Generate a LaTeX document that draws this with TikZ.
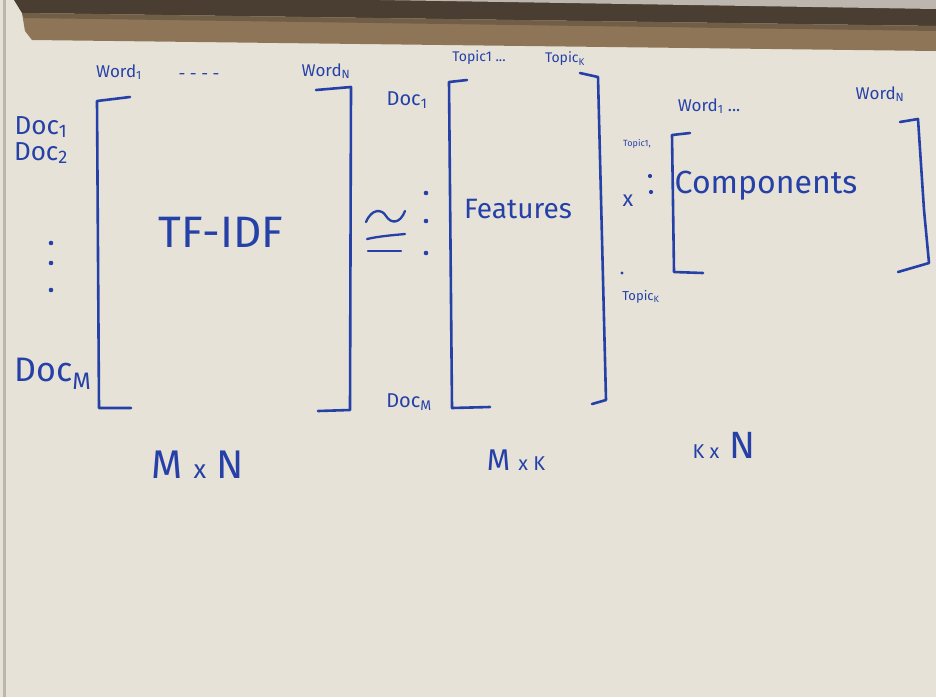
\documentclass[tikz,border=0pt]{standalone}
\usepackage{fontspec}
\setmainfont{Fira Sans}
\usetikzlibrary{positioning}

\definecolor{board}{HTML}{E7E2D8}
\definecolor{marker}{HTML}{2541A8}
\definecolor{tray}{HTML}{8E7557}
\definecolor{traydark}{HTML}{4A3D31}
\definecolor{rail}{HTML}{BDB6AE}

\newcommand{\hsz}[1]{\fontsize{#1}{#1}\selectfont}

\tikzset{
  pen/.style={marker,line width=2.6pt,line cap=round,line join=round},
  ink/.style={text=marker,inner sep=0pt,font=\hsz{#1}},
  dotmark/.style={fill=marker}
}

\begin{document}
\begin{tikzpicture}[x=1pt,y=-1pt]

    \useasboundingbox (0,0) rectangle (936,697);
    \fill[board] (0,0) rectangle (936,697); % board
    \fill[traydark] (14,0) -- (936,0) -- (936,26) -- (22,13) -- cycle; % tray
    \fill[rail] (380,0) -- (936,0) -- (936,9) -- cycle; % tray
    \fill[tray] (22,13) -- (936,26) -- (936,51) -- (32,40) -- (25,31) -- cycle; % tray
    \fill[tray!80!black] (22,13) -- (936,26) -- (936,31) -- (24,18) -- cycle; % tray
    \fill[rail] (3,0) rectangle (6,697); % frame

    % TF-IDF
    \draw[pen] (130,97) -- (97,101) -- (99,408) -- (131,408);
    \draw[pen] (316,90) -- (351,87) -- (350,410) -- (318,411);
    \node[ink=44] (tfidf) at (221,232) {TF-IDF};
    \node[ink=17] (wa1) at (119,72) {Word\textsubscript{1}};
    \node[ink=17] (wadots) at (199,77) {- - - -};
    \node[ink=17] (waN) at (326,71) {Word\textsubscript{N}};
    \node[ink=26] (doc1) at (41,127) {Doc\textsubscript{1}};
    \node[ink=26] (doc2) at (41,153) {Doc\textsubscript{2}};
    \node[ink=34] (docM) at (53,374) {Doc\textsubscript{M}};
    \foreach \y in {243,263,290}
      \fill[dotmark] (51,\y) circle (2.3);
    \node[ink=40] (mn) at (198,465) {M {\hsz{26}x} N};

    % approx
    \draw[pen,line width=2.3pt] (366,222) .. controls (372,208) and (382,209) .. (386,216)
        .. controls (391,224) and (400,224) .. (405,211);
    \draw[pen,line width=2.3pt] (367,239) .. controls (380,236) and (395,235) .. (405,234);
    \draw[pen,line width=2.3pt] (368,251) -- (401,251);
    \foreach \y in {193,221,253}
      \fill[dotmark] (426,\y) circle (2.3);

    % Features
    \draw[pen] (467,80) -- (449,82) -- (452,408) -- (490,407);
    \draw[pen] (580,73) -- (598,77) -- (606,400) -- (592,404);
    \node[ink=28] (feat) at (518,209) {Features};
    \node[ink=14] (tb1) at (479,58) {Topic1 ...};
    \node[ink=14] (tbK) at (565,59) {Topic\textsubscript{K}};
    \node[ink=20] (fdoc1) at (407,100) {Doc\textsubscript{1}};
    \node[ink=20] (fdocM) at (409,402) {Doc\textsubscript{M}};
    \node[ink=30] (mk) at (516,460) {M {\hsz{20}x K}};

    % Components
    \node[ink=22] (times) at (628,201) {x};
    \fill[dotmark] (650,176) circle (2.1);
    \fill[dotmark] (651,192) circle (2.1);
    \fill[dotmark] (622,273) circle (1.6);
    \draw[pen] (690,133) -- (672,135) -- (674,272) -- (703,273);
    \draw[pen] (900,122) -- (918,119) -- (924,210) -- (929,263) -- (898,272);
    \node[ink=32] (comp) at (766,186) {Components};
    \node[ink=9] (tc1) at (637,144) {Topic1,};
    \node[ink=13] (tcK) at (641,297) {Topic\textsubscript{K}};
    \node[ink=17] (wb1) at (709,106) {Word\textsubscript{1} ...};
    \node[ink=17] (wbN) at (880,94) {Word\textsubscript{N}};
    \node[ink=38] (kn) at (724,445) {{\hsz{20}K x} N};

\end{tikzpicture}
\end{document}
